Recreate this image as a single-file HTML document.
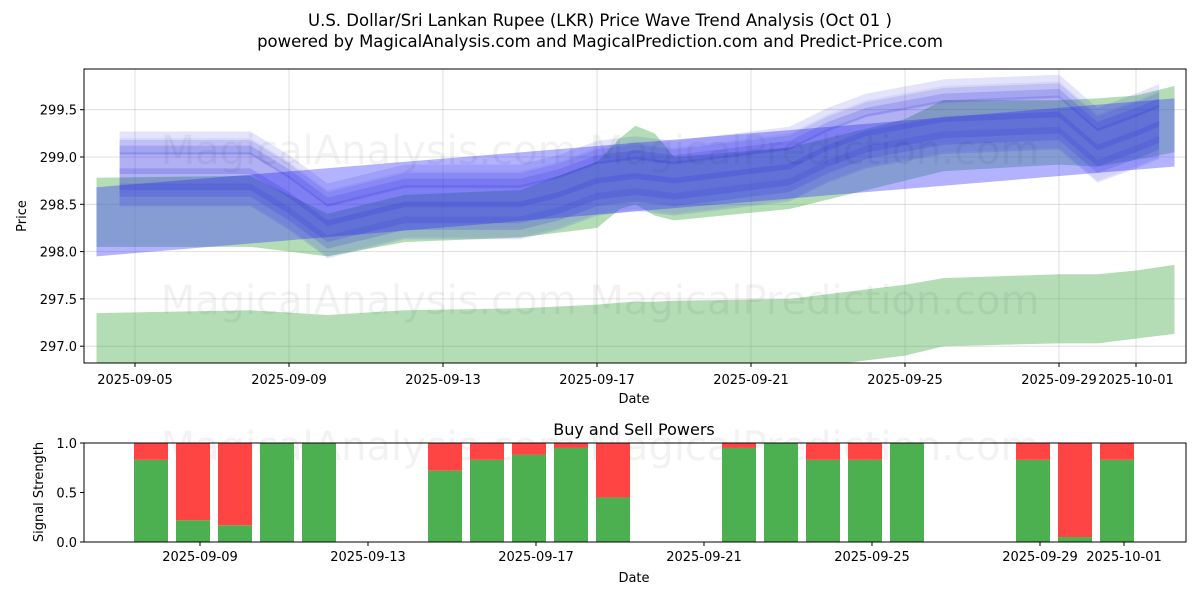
<!DOCTYPE html>
<html><head><meta charset="utf-8"><style>
body{margin:0;background:#fff;font-family:"Liberation Sans","DejaVu Sans",sans-serif}
svg text{font-family:"DejaVu Sans","Liberation Sans",sans-serif}
</style></head><body>
<svg id="c" width="1200" height="600" xmlns="http://www.w3.org/2000/svg">
<rect width="1200" height="600" fill="#fff"/>
<text x="600" y="26" font-size="16.5" text-anchor="middle">U.S. Dollar/Sri Lankan Rupee (LKR) Price Wave Trend Analysis (Oct 01 )</text>
<text x="600" y="47" font-size="16.5" text-anchor="middle">powered by MagicalAnalysis.com and MagicalPrediction.com and Predict-Price.com</text>
<g id="main"></g>
<g id="low"></g>
</svg>
<script>
// ---- price chart data (day offset from 2025-09-05) ----
const greenDays = [-1, 3, 5, 7, 10, 12, 12.6, 13, 13.5, 14, 17, 20, 21, 24, 25, 26, 27];
const greenHighTop = [298.78, 298.8, 298.4, 298.6, 298.65, 298.95, 299.2, 299.33, 299.25, 299.0, 299.1, 299.4, 299.6, 299.6, 299.62, 299.65, 299.75];
const greenHighBot = [298.05, 298.05, 297.95, 298.1, 298.15, 298.25, 298.45, 298.5, 298.38, 298.33, 298.45, 298.75, 298.85, 298.92, 298.9, 298.97, 299.05];
const greenLowTop = [297.35, 297.38, 297.33, 297.38, 297.4, 297.44, 297.46, 297.47, 297.47, 297.48, 297.5, 297.65, 297.72, 297.76, 297.76, 297.8, 297.86];
const greenLowBot = [296.75, 296.75, 296.75, 296.75, 296.75, 296.75, 296.75, 296.75, 296.75, 296.75, 296.75, 296.9, 297.0, 297.03, 297.03, 297.08, 297.13];
const blueDays = [-0.4, 3, 4, 5, 7, 10, 11, 12, 13, 14, 17, 18, 19, 21, 24, 25, 26, 26.6];
const blueCenter = [298.85, 298.85, 298.6, 298.3, 298.5, 298.5, 298.6, 298.75, 298.8, 298.75, 298.9, 299.1, 299.25, 299.4, 299.45, 299.1, 299.25, 299.35];
const blueOffsets = [0.3, 0.12, 0.0, -0.12, -0.25, 0.25, 0.0];
const blueHalf = [0.12, 0.15, 0.2, 0.15, 0.12, 0.08, 0.35];
const blueAlpha = [0.13, 0.18, 0.16, 0.18, 0.14, 0.12, 0.07];
const trendDays = [-1, 27];
const trendTop = [298.68, 299.62];
const trendBot = [297.95, 298.9];
const yTicks = [297.0, 297.5, 298.0, 298.5, 299.0, 299.5];
const xTickDays = [0, 4, 8, 12, 16, 20, 24, 26];
const xTickLabels = ['2025-09-05','2025-09-09','2025-09-13','2025-09-17','2025-09-21','2025-09-25','2025-09-29','2025-10-01'];
// ---- signal chart data (day offset from 2025-09-09) ----
const barDays = [-1, 0, 1, 2, 3, 6, 7, 8, 9, 10, 13, 14, 15, 16, 17, 20, 21, 22];
const buyPower = [0.83, 0.22, 0.17, 1.0, 1.0, 0.72, 0.83, 0.88, 0.95, 0.45, 0.95, 1.0, 0.83, 0.83, 1.0, 0.83, 0.05, 0.83];
const sigTicks = [0, 0.5, 1.0];
const bTickDays = [0, 4, 8, 12, 16, 20, 22];
const bTickLabels = ['2025-09-09','2025-09-13','2025-09-17','2025-09-21','2025-09-25','2025-09-29','2025-10-01'];

const NS='http://www.w3.org/2000/svg';
function mk(tag, attrs, parent){const e=document.createElementNS(NS,tag);for(const k in attrs)e.setAttribute(k,attrs[k]);parent.appendChild(e);return e;}
const X=d=>135+38.5*d, Y=v=>157-(v-299.0)*94.6;
const L=84,R=1186,T=69,B=363;
const main=document.getElementById('main');
yTicks.forEach(v=>{const g=mk('line',{x1:L,x2:R,y1:Y(v),y2:Y(v),stroke:'#b0b0b0','stroke-width':0.8,'stroke-opacity':0.5},main);


mk('line',{x1:L-4,x2:L,y1:Y(v),y2:Y(v),stroke:'#000'},main);
const t=mk('text',{x:L-7,y:Y(v)+5,'font-size':13,'text-anchor':'end'},main);t.textContent=v.toFixed(1);

});
xTickDays.forEach((d,i)=>{const g=mk('line',{x1:X(d),x2:X(d),y1:T,y2:B,stroke:'#b0b0b0','stroke-width':0.8,'stroke-opacity':0.5},main);


mk('line',{x1:X(d),x2:X(d),y1:B,y2:B+4,stroke:'#000'},main);
const t=mk('text',{x:X(d),y:B+21,'font-size':13,'text-anchor':'middle'},main);t.textContent=xTickLabels[i];

});
const clip=mk('clipPath',{id:'cp'},main);mk('rect',{x:L,y:T,width:R-L,height:B-T},clip);
const plot=mk('g',{'clip-path':'url(#cp)'},main);
function band(days,top,bot,fill,op,name){let p=days.map((d,i)=>X(d)+','+Y(top[i]));p=p.concat(days.map((d,i)=>X(d)+','+Y(bot[i])).reverse());
const e=mk('polygon',{points:p.join(' '),fill:fill,'fill-opacity':op},plot);

}
band(greenDays,greenHighTop,greenHighBot,'#4caf50',0.42,'green-band-upper');
band(greenDays,greenLowTop,greenLowBot,'#4caf50',0.42,'green-band-lower');
band(trendDays,trendTop,trendBot,'#3f3fff',0.4,'blue-trend-band');
blueOffsets.forEach((o,k)=>{band(blueDays,blueCenter.map(c=>c+o+blueHalf[k]),blueCenter.map(c=>c+o-blueHalf[k]),'#2828e0',blueAlpha[k],'blue-wave-band');});
[150,300].forEach(y=>{const t=mk('text',{x:600,y:y+14,'font-size':40,'text-anchor':'middle',fill:'#000','fill-opacity':0.05},main);t.textContent='MagicalAnalysis.com    MagicalPrediction.com';

});
mk('rect',{x:L,y:T,width:R-L,height:B-T,fill:'none',stroke:'#000','stroke-width':1},main);
let t=mk('text',{x:634,y:403,'font-size':13,'text-anchor':'middle'},main);t.textContent='Date';
t=mk('text',{x:0,y:0,'font-size':13,'text-anchor':'middle',transform:'translate(26,216) rotate(-90)'},main);t.textContent='Price';

const low=document.getElementById('low');
const bL=84,bR=1186,bT=443,bB=542;
const XB=d=>200+42*d, YB=v=>bB-v*(bB-bT);
t=mk('text',{x:634,y:435,'font-size':16,'text-anchor':'middle'},low);t.textContent='Buy and Sell Powers';
t=mk('text',{x:600,y:460,'font-size':40,'text-anchor':'middle',fill:'#000','fill-opacity':0.05},low);t.textContent='MagicalAnalysis.com    MagicalPrediction.com';
barDays.forEach((d,i)=>{const cx=XB(d)-7,w=34;
const g=mk('rect',{x:cx-w/2,y:YB(buyPower[i]),width:w,height:YB(0)-YB(buyPower[i]),fill:'#4caf50'},low);


const r=mk('rect',{x:cx-w/2,y:YB(1),width:w,height:YB(buyPower[i])-YB(1),fill:'#ff4444'},low);

});
sigTicks.forEach(v=>{const tt=mk('text',{x:bL-7,y:YB(v)+5,'font-size':13,'text-anchor':'end'},low);tt.textContent=v.toFixed(1);


mk('line',{x1:bL-4,x2:bL,y1:YB(v),y2:YB(v),stroke:'#000'},low);});
bTickDays.forEach((d,i)=>{mk('line',{x1:XB(d),x2:XB(d),y1:bB,y2:bB+4,stroke:'#000'},low);
const tt=mk('text',{x:XB(d),y:bB+19,'font-size':13,'text-anchor':'middle'},low);tt.textContent=bTickLabels[i];

});
mk('rect',{x:bL,y:bT,width:bR-bL,height:bB-bT,fill:'none',stroke:'#000','stroke-width':1},low);
t=mk('text',{x:634,y:582,'font-size':13,'text-anchor':'middle'},low);t.textContent='Date';
t=mk('text',{x:0,y:0,'font-size':13,'text-anchor':'middle',transform:'translate(43,492) rotate(-90)'},low);t.textContent='Signal Strength';
</script>
</body></html>
